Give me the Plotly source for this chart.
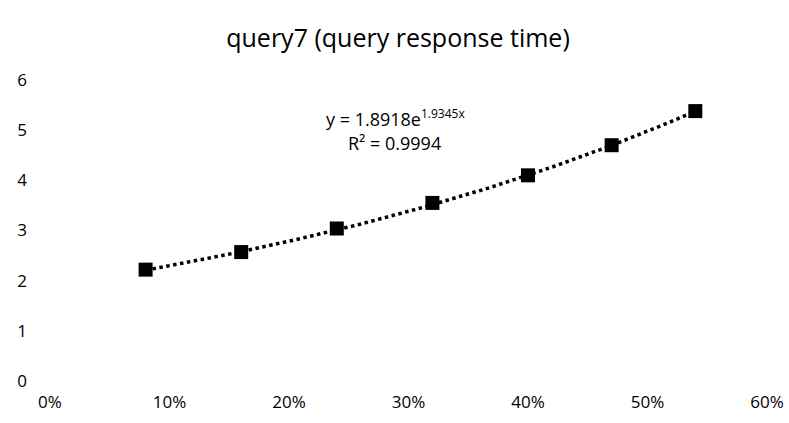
import numpy as np
import plotly.graph_objects as go

# data
x_vals = [0.08, 0.16, 0.24, 0.32, 0.40, 0.47, 0.54]
y_vals = [2.22, 2.57, 3.04, 3.55, 4.10, 4.70, 5.38]
x_ticks = [0, 0.1, 0.2, 0.3, 0.4, 0.5, 0.6]
y_ticks = [0, 1, 2, 3, 4, 5, 6]
fit_a = 1.8918
fit_b = 1.9345
title_text = "query7 (query response time)"

# exponential trendline from the displayed fit
tx = np.linspace(min(x_vals), max(x_vals), 200)
ty = fit_a * np.exp(fit_b * tx)

W, H = 789, 423
ml, mr, mt, mb = 50, 22, 80, 42
pw, ph = W - ml - mr, H - mt - mb
FONT = "Open Sans, Liberation Sans, sans-serif"

fig = go.Figure()
fig.add_trace(go.Scatter(x=tx, y=ty, mode="lines",
                         line=dict(color="black", width=3.5, dash="dot"),
                         hoverinfo="skip", showlegend=False))
fig.add_trace(go.Scatter(x=x_vals, y=y_vals, mode="markers",
                         marker=dict(symbol="square", size=14, color="black"),
                         showlegend=False))

for text, px, py in [("y = 1.8918e<sup><span style='font-size:12px'>1.9345x</span></sup>", 395, 118),
                     ("R² = 0.9994", 394, 143)]:
    fig.add_annotation(x=(px - ml) / pw, y=1 - (py - mt) / ph,
                       xref="paper", yref="paper", text=text, showarrow=False,
                       xanchor="center", yanchor="middle",
                       font=dict(family=FONT, size=18, color="black"))

fig.update_layout(
    width=W, height=H,
    margin=dict(l=ml, r=mr, t=mt, b=mb, autoexpand=False),
    paper_bgcolor="white", plot_bgcolor="white",
    title=dict(text=title_text, x=398 / W, xref="container", xanchor="center",
               y=1 - 38 / H, yanchor="middle",
               font=dict(family=FONT, size=25, color="black")),
    font=dict(family=FONT, size=17, color="black"),
)
fig.update_xaxes(range=[0, 0.6], tickvals=x_ticks, tickformat=".0%",
                 showgrid=False, zeroline=False, showline=False,
                 ticks="", ticklabelstandoff=9, automargin=False)
fig.update_yaxes(range=[0, 6], tickvals=y_ticks,
                 showgrid=False, zeroline=False, showline=False,
                 ticks="", ticklabelstandoff=22, automargin=False)

fig.write_html("out.html", config={"displayModeBar": False},
               post_script="document.body.style.margin='0';document.body.style.padding='0';")
